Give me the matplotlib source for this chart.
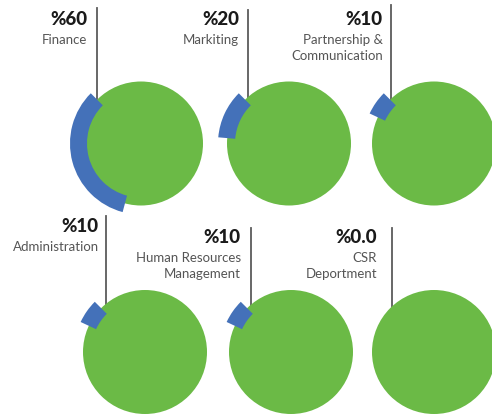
import numpy as np
import matplotlib.pyplot as plt
from matplotlib.patches import Circle, Wedge

# department shares of the budget
categories = ["Finance", "Markiting", "Partnership &\nCommunication",
              "Administration", "Human Resources\nManagement", "CSR\nDeportment"]
shares = [60, 20, 10, 10, 10, 0.0]
share_labels = ["%60", "%20", "%10", "%10", "%10", "%0.0"]

GREEN = "#6BBA46"
BLUE = "#4471B9"
LINE = "#5c5c5c"
LABEL_GREY = "#555555"

W, H = 492, 416
R_DISC = 62          # green disc radius
R_RING = 71          # outer radius of the blue arc
RING_W = 17          # arc thickness
START = 135          # arc starts at upper-left and runs counter-clockwise
DEG_PER_PCT = 2.0

# layout (pixel units, y downwards)
centers = [(141, 143.5), (289, 143.5), (434, 143.5),
           (145, 352), (291, 352), (434, 352)]
line_x = [96.7, 248, 391, 106, 250.5, 391.7]
text_right = [87.5, 239, 383, 99, 241, 377]
value_baseline = [25, 25, 25, 232, 243, 243]
line_top = [8, 10, 5, 216, 228, 228]

fig = plt.figure(figsize=(W / 100, H / 100), dpi=100)
ax = fig.add_axes([0, 0, 1, 1])
ax.set_xlim(0, W)
ax.set_ylim(H, 0)
ax.axis("off")

for i, (cat, val, lab) in enumerate(zip(categories, shares, share_labels)):
    cx, cy = centers[i]
    ax.add_patch(Circle((cx, cy), R_DISC, color=GREEN, lw=0, zorder=1))

    sweep = val * DEG_PER_PCT
    if sweep > 0:
        # y axis is flipped, so visual angles become negative data angles
        ax.add_patch(Wedge((cx, cy), R_RING, -START - sweep, -START,
                           width=RING_W, color=BLUE, lw=0, zorder=3))

    # leader line runs down to the top of the disc/arc
    ax.plot([line_x[i], line_x[i]], [line_top[i], cy - 40], color=LINE,
            lw=1.3, zorder=0)

    tx = text_right[i]
    ax.text(tx, value_baseline[i], lab, ha="right", va="baseline",
            fontsize=13.5, fontweight="black", family="Lato", color="#1a1a1a")
    for k, part in enumerate(cat.split("\n")):
        ax.text(tx, value_baseline[i] + 19 + 16 * k, part, ha="right",
                va="baseline", fontsize=9.5, fontweight="normal",
                family="Lato", color=LABEL_GREY)

fig.savefig("out.png", dpi=100)
